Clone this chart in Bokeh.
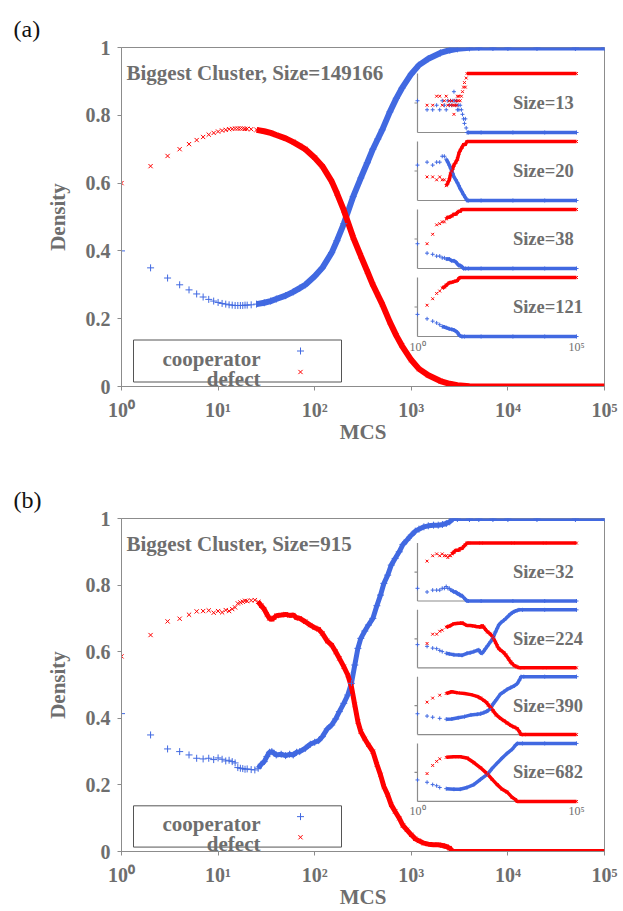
import math
import numpy as np
from bokeh.plotting import figure
from bokeh.layouts import column
from bokeh.models import (FixedTicker, Label, BoxAnnotation, Range1d, CustomJSTickFormatter,
                          LogScale, LinearScale)
from bokeh.embed import file_html
from bokeh.resources import INLINE

NAN = float("nan")

# ---------------- data ----------------
X_TICKS = [1, 10, 100, 1000, 10000, 100000]
X_TICK_LABELS = ["10⁰", "10¹", "10²", "10³", "10⁴", "10⁵"]
Y_TICKS = [0, 0.2, 0.4, 0.6, 0.8, 1.0]
Y_TICK_LABELS = ["0", "0.2", "0.4", "0.6", "0.8", "1"]
INSET_X_TICKS = [1, 100000]
INSET_X_LABELS = ["10⁰", "10⁵"]
SERIES = ["cooperator", "defect"]

title_a = "Biggest Cluster, Size=149166"
title_b = "Biggest Cluster, Size=915"

mcs_a = [1, 2, 3, 4, 5, 6, 7, 8, 9, 10, 11, 12, 13, 14, 15, 16, 17, 18, 19, 20,
         22, 25, 30, 35, 40, 50, 60, 70, 80, 100, 120, 150, 170, 200, 250, 300, 350, 400,
         450, 500, 600, 700, 800, 1000, 1200, 1500, 2000, 2500, 3000, 4000, 5000, 7000,
         10000, 20000, 50000, 100000]
coop_a = [0.400, 0.350, 0.320, 0.300, 0.285, 0.273, 0.264, 0.257, 0.252, 0.248, 0.245, 0.243,
          0.241, 0.240, 0.239, 0.239, 0.239, 0.239, 0.240, 0.240,
          0.241, 0.243, 0.247, 0.252, 0.258, 0.268, 0.279, 0.290, 0.300, 0.325, 0.350, 0.395,
          0.430, 0.480, 0.560, 0.615, 0.660, 0.700, 0.730, 0.757, 0.810, 0.850, 0.880, 0.922,
          0.948, 0.967, 0.984, 0.992, 0.996, 0.999, 1.0, 1.0, 1.0, 1.0, 1.0, 1.0]
defect_a = [0.600, 0.650, 0.680, 0.700, 0.715, 0.727, 0.736, 0.743, 0.748, 0.752, 0.755, 0.757,
            0.759, 0.760, 0.761, 0.761, 0.761, 0.761, 0.760, 0.760,
            0.759, 0.757, 0.753, 0.748, 0.742, 0.732, 0.721, 0.710, 0.700, 0.675, 0.650, 0.605,
            0.570, 0.520, 0.440, 0.385, 0.340, 0.300, 0.270, 0.243, 0.190, 0.150, 0.120, 0.078,
            0.052, 0.033, 0.016, 0.008, 0.004, 0.001, 0.0, 0.0, 0.0, 0.0, 0.0, 0.0]

mcs_b = [1, 2, 3, 4, 5, 6, 7, 8, 9, 10, 11, 12, 13, 14, 15, 16, 17, 18, 19, 20,
         22, 24, 26, 28, 30, 32, 34, 36, 38, 40,
         45, 50, 55, 60, 65, 70, 80, 90, 100, 110,
         120, 135, 150, 165, 180, 200, 220, 240, 260, 280,
         300, 330, 360, 400, 440, 480, 520, 570, 620, 680,
         750, 820, 900, 1000, 1100, 1200, 1350, 1500, 1700, 1900,
         2100, 2300, 2500, 2700, 3000, 4000, 5000, 7000, 10000, 20000,
         50000, 100000]
coop_b = [0.414, 0.350, 0.308, 0.300, 0.290, 0.280, 0.278, 0.280, 0.276, 0.281, 0.277, 0.272,
          0.274, 0.270, 0.266, 0.252, 0.250, 0.249, 0.247, 0.248,
          0.246, 0.245, 0.250, 0.262, 0.270, 0.285, 0.298, 0.300, 0.295, 0.290,
          0.292, 0.288, 0.292, 0.290, 0.298, 0.300, 0.310, 0.322, 0.328, 0.333,
          0.345, 0.368, 0.380, 0.398, 0.420, 0.445, 0.470, 0.505, 0.560, 0.610,
          0.640, 0.662, 0.680, 0.700, 0.738, 0.770, 0.805, 0.830, 0.860, 0.880,
          0.900, 0.922, 0.935, 0.950, 0.962, 0.968, 0.975, 0.978, 0.980, 0.980,
          0.982, 0.985, 0.990, 1.0, 1.0, 1.0, 1.0, 1.0, 1.0, 1.0,
          1.0, 1.0]
defect_b = [0.586, 0.650, 0.691, 0.699, 0.711, 0.721, 0.722, 0.724, 0.717, 0.722, 0.718, 0.725,
            0.722, 0.728, 0.733, 0.745, 0.748, 0.750, 0.753, 0.752,
            0.754, 0.755, 0.750, 0.738, 0.728, 0.712, 0.700, 0.697, 0.702, 0.708,
            0.710, 0.712, 0.709, 0.710, 0.702, 0.700, 0.690, 0.680, 0.672, 0.667,
            0.655, 0.632, 0.620, 0.600, 0.580, 0.555, 0.530, 0.495, 0.440, 0.390,
            0.360, 0.338, 0.320, 0.300, 0.262, 0.230, 0.195, 0.170, 0.140, 0.120,
            0.100, 0.078, 0.065, 0.050, 0.038, 0.032, 0.025, 0.022, 0.020, 0.020,
            0.018, 0.015, 0.010, 0.0, 0.0, 0.0, 0.0, 0.0, 0.0, 0.0,
            0.0, 0.0]

# insets of panel (a)
ins_a_size = ["Size=13", "Size=20", "Size=38", "Size=121"]
ia1_t = [1, 2, 3, 4, 5, 6, 7, 8, 9, 10, 11, 12, 13, 14, 15, 16, 17, 18, 19, 20, 22, 24, 26, 28,
         30, 32, 34, 36, 40, 100, 1000, 10000, 100000]
ia1_c = [0.538, 0.385, 0.385, 0.462, 0.385, 0.538, 0.462, 0.385, 0.538, 0.462, 0.538, 0.462,
         0.538, 0.692, 0.538, 0.462, 0.538, 0.385, 0.462, 0.385, 0.462, 0.385, 0.308, 0.231,
         0.154, 0.231, 0.077, 0.0, 0.0, 0.0, 0.0, 0.0, 0.0]
ia1_d = [NAN, 0.462, 0.462, 0.615, 0.615, 0.462, 0.538, 0.615, 0.462, 0.538, 0.462, 0.538,
         0.462, 0.308, 0.462, 0.538, 0.462, 0.615, 0.538, 0.615, 0.538, 0.615, 0.692, 0.769,
         0.846, 0.769, 0.923, 1.0, 1.0, 1.0, 1.0, 1.0, 1.0]
ia2_t = [1, 2, 3, 4, 5, 6, 7, 8, 9, 10, 11, 12, 13, 14, 16, 18, 20, 22, 25, 28, 32, 36, 40,
         100, 1000, 10000, 100000]
ia2_c = [0.60, 0.65, 0.60, 0.65, 0.65, 0.75, 0.75, 0.70, 0.65, 0.60, 0.55, 0.50, 0.45, 0.40,
         0.35, 0.30, 0.25, 0.20, 0.15, 0.10, 0.05, 0.0, 0.0, 0.0, 0.0, 0.0, 0.0]
ia2_d = [NAN, 0.40, 0.40, 0.35, 0.40, 0.35, 0.35, 0.25, 0.30, 0.35, 0.45, 0.50, 0.55, 0.60,
         0.65, 0.70, 0.80, 0.85, 0.90, 0.95, 0.95, 1.0, 1.0, 1.0, 1.0, 1.0, 1.0]
ia3_t = [1, 2, 3, 4, 5, 6, 7, 8, 9, 10, 12, 14, 16, 18, 20, 22, 25, 28, 32, 40, 100, 1000,
         10000, 100000]
ia3_c = [0.42, 0.26, 0.24, 0.21, 0.21, 0.18, 0.18, 0.16, 0.16, 0.16, 0.13, 0.13, 0.11, 0.08,
         0.05, 0.05, 0.03, 0.0, 0.0, 0.0, 0.0, 0.0, 0.0, 0.0]
ia3_d = [NAN, 0.42, 0.58, 0.74, 0.76, 0.79, 0.79, 0.84, 0.87, 0.87, 0.89, 0.92, 0.92, 0.95,
         0.97, 0.97, 1.0, 1.0, 1.0, 1.0, 1.0, 1.0, 1.0, 1.0]
ia4_t = [1, 2, 3, 4, 5, 6, 7, 8, 10, 12, 14, 16, 18, 20, 22, 25, 30, 100, 1000, 10000, 100000]
ia4_c = [0.375, 0.30, 0.26, 0.23, 0.20, 0.17, 0.16, 0.15, 0.13, 0.12, 0.11, 0.09, 0.07, 0.03,
         0.01, 0.0, 0.0, 0.0, 0.0, 0.0, 0.0]
ia4_d = [NAN, 0.53, 0.64, 0.73, 0.77, 0.82, 0.84, 0.87, 0.91, 0.92, 0.93, 0.94, 0.95, 0.985,
         1.0, 1.0, 1.0, 1.0, 1.0, 1.0, 1.0]

# insets of panel (b)
ins_b_size = ["Size=32", "Size=224", "Size=390", "Size=682"]
ib1_t = [1, 2, 3, 4, 5, 6, 7, 8, 9, 10, 11, 12, 14, 16, 18, 20, 22, 25, 28, 32, 36, 40, 100,
         1000, 10000, 100000]
ib1_c = [0.219, 0.156, 0.188, 0.188, 0.188, 0.219, 0.219, 0.250, 0.219, 0.219, 0.188, 0.188,
         0.156, 0.156, 0.125, 0.125, 0.094, 0.094, 0.063, 0.031, 0.0, 0.0, 0.0, 0.0, 0.0, 0.0]
ib1_d = [NAN, 0.688, 0.781, 0.813, 0.781, 0.813, 0.781, 0.781, 0.750, 0.781, 0.781, 0.813,
         0.844, 0.875, 0.875, 0.875, 0.906, 0.906, 0.938, 0.969, 1.0, 1.0, 1.0, 1.0, 1.0, 1.0]
ib2_t = [1, 2, 3, 4, 5, 6, 8, 10, 14, 20, 25, 36, 45, 59, 75, 85, 96, 108, 122, 137, 160, 198,
         240, 284, 320, 361, 420, 518, 600, 740, 850, 950, 1100, 1210, 1370, 1550, 2000, 10000,
         100000]
ib2_c = [0.40, 0.37, 0.34, 0.33, 0.30, 0.28, 0.25, 0.24, 0.225, 0.22, 0.215, 0.25, 0.26, 0.28,
         0.30, 0.31, 0.26, 0.25, 0.29, 0.33, 0.38, 0.45, 0.52, 0.62, 0.68, 0.74, 0.78, 0.82,
         0.85, 0.90, 0.93, 0.95, 0.97, 0.98, 0.99, 1.0, 1.0, 1.0, 1.0]
ib2_d = [NAN, 0.42, 0.58, 0.58, 0.63, 0.65, 0.70, 0.72, 0.76, 0.77, 0.775, 0.73, 0.73, 0.72,
         0.71, 0.71, 0.70, 0.73, 0.70, 0.66, 0.62, 0.58, 0.52, 0.44, 0.38, 0.33, 0.30, 0.26,
         0.22, 0.15, 0.10, 0.07, 0.04, 0.03, 0.015, 0.0, 0.0, 0.0, 0.0]
ib3_t = [1, 2, 3, 5, 8, 12, 19, 30, 48, 75, 96, 122, 150, 170, 198, 240, 300, 408, 520, 659,
         850, 1100, 1370, 1600, 1800, 2200, 10000, 100000]
ib3_c = [0.36, 0.32, 0.30, 0.28, 0.265, 0.27, 0.29, 0.31, 0.34, 0.35, 0.36, 0.38, 0.40, 0.42,
         0.45, 0.53, 0.60, 0.70, 0.74, 0.78, 0.81, 0.84, 0.88, 0.94, 1.0, 1.0, 1.0, 1.0]
ib3_d = [NAN, 0.56, 0.63, 0.68, 0.71, 0.74, 0.72, 0.71, 0.69, 0.66, 0.63, 0.59, 0.55, 0.51,
         0.47, 0.41, 0.34, 0.28, 0.24, 0.20, 0.16, 0.13, 0.10, 0.05, 0.0, 0.0, 0.0, 0.0]
ib4_t = [1, 2, 3, 4, 5, 8, 14, 22, 36, 59, 96, 160, 223, 320, 460, 659, 950, 1210, 1370, 2000,
         10000, 100000]
ib4_c = [0.37, 0.33, 0.29, 0.27, 0.24, 0.22, 0.21, 0.21, 0.24, 0.29, 0.38, 0.47, 0.57, 0.66,
         0.75, 0.83, 0.90, 0.97, 1.0, 1.0, 1.0, 1.0]
ib4_d = [NAN, 0.48, 0.62, 0.69, 0.735, 0.76, 0.77, 0.77, 0.75, 0.67, 0.58, 0.47, 0.38, 0.29,
         0.21, 0.16, 0.07, 0.03, 0.0, 0.0, 0.0, 0.0]

# ---------------- style / layout ----------------
FONT = "Liberation Serif"
TXT = "#6e6e6e"
AXC = "#8c8c8c"
BLUE = "#4169e1"
RED = "#ff0000"

W = 623
FL, FR = 121, 604          # main frame left/right (px)
FH = 339                   # main frame height (px)
DEC_PX = (FR - FL) / 5.0   # px per decade (main)
IN_L, IN_R = 417, 576      # inset frame left/right (px)
IN_DEC = (IN_R - IN_L) / 5.0


def fx(px):
    return 10 ** (px / DEC_PX)


def fy(px):
    return px / FH


def lookup_formatter(tick_vals, tick_texts):
    return CustomJSTickFormatter(
        args=dict(tick_vals=tick_vals, tick_texts=tick_texts),
        code="""
        for (let i = 0; i < tick_vals.length; i++) {
            if (Math.abs(tick_vals[i] - tick) <= 1e-9 * Math.max(1, Math.abs(tick_vals[i]))) return tick_texts[i];
        }
        return "";
        """)


def band(t, v, start):
    tt = [a for a in t if a >= start]
    vv = [b for a, b in zip(t, v) if a >= start]
    return tt, vv


def add_inset(p, k, top, tp, bp, t, c, d, band_from, size_text, show_x_labels):
    """Inset drawn through its own extra ranges inside the main frame."""
    xn, yn = "ix", "iy%d" % k
    unit = float(bp - tp)
    p.extra_y_ranges[yn] = Range1d(-(top + FH - bp) / unit, 1 + (tp - top) / unit)
    p.extra_y_scales[yn] = LinearScale()
    kw = dict(x_range_name=xn, y_range_name=yn)
    tick_x = 10 ** (-3.0 / IN_DEC)
    p.segment(x0=[1, 1, tick_x], y0=[0, 0, 0.5], x1=[1, 1e5, 1], y1=[1, 0, 0.5],
              line_color=AXC, line_width=1.2, **kw)
    tc, vc = band(t, c, band_from)
    td, vd = band(t, d, band_from)
    p.line(tc, vc, line_color=BLUE, line_width=3.5, **kw)
    p.line(td, vd, line_color=RED, line_width=3.5, **kw)
    p.scatter(np.asarray(t, dtype=float), np.asarray(c, dtype=float), marker="cross", size=4,
              line_color=BLUE, line_width=1, **kw)
    p.scatter(np.asarray(t, dtype=float), np.asarray(d, dtype=float), marker="x", size=4,
              line_color=RED, line_width=1, **kw)
    p.add_layout(Label(x=1000, y=0.5, text=size_text, text_align="left", text_baseline="middle",
                       text_font=FONT, text_font_style="bold", text_font_size="18.5px",
                       text_color=TXT, **kw))
    if show_x_labels:
        for tv, tl in zip(INSET_X_TICKS, INSET_X_LABELS):
            p.add_layout(Label(x=tv, y=0, y_offset=-3, text=tl, text_align="center",
                               text_baseline="top", text_font=FONT, text_font_size="12px",
                               text_color=TXT, **kw))


def main_panel(H, top, t, c, d, band_from, band_w, title, tag, insets, sizes):
    p = figure(width=W, height=H, x_axis_type="log",
               x_range=Range1d(1, 1e5), y_range=Range1d(0, 1),
               output_backend="svg", toolbar_location=None,
               min_border_left=FL, min_border_right=W - FR,
               min_border_top=top, min_border_bottom=H - top - FH,
               background_fill_color="white", border_fill_color="white")
    p.grid.visible = False
    p.outline_line_color = AXC
    p.outline_line_width = 1

    p.title.text = tag
    p.title.align = "left"
    p.title.offset = -108
    p.title.standoff = 12
    p.title.text_font = FONT
    p.title.text_font_size = "24px"
    p.title.text_font_style = "normal"
    p.title.text_color = "#111111"

    for ax in (p.xaxis[0], p.yaxis[0]):
        ax.axis_line_color = AXC
        ax.major_tick_line_color = AXC
        ax.minor_tick_line_color = None
        ax.major_tick_out = 4
        ax.major_tick_in = 0
        ax.major_label_text_font = FONT
        ax.major_label_text_font_style = "bold"
        ax.major_label_text_color = TXT
        ax.axis_label_text_font = FONT
        ax.axis_label_text_font_style = "bold"
        ax.axis_label_text_color = TXT
        ax.axis_label_text_font_size = "21px"
    xa = p.xaxis[0]
    xa.ticker = FixedTicker(ticks=X_TICKS)
    xa.formatter = lookup_formatter(X_TICKS, X_TICK_LABELS)
    xa.major_label_text_font_size = "20px"
    xa.major_label_standoff = 8
    xa.axis_label = "MCS"
    xa.axis_label_standoff = -4
    ya = p.yaxis[0]
    ya.ticker = FixedTicker(ticks=Y_TICKS)
    ya.formatter = lookup_formatter(Y_TICKS, Y_TICK_LABELS)
    ya.major_label_text_font_size = "20px"
    ya.major_label_standoff = 7
    ya.axis_label = "Density"
    ya.axis_label_standoff = 13

    p.extra_x_ranges["ix"] = Range1d(10 ** (-(IN_L - FL) / IN_DEC), 10 ** (5 + (FR - IN_R) / IN_DEC))
    p.extra_x_scales["ix"] = LogScale()

    tc, vc = band(t, c, band_from)
    td, vd = band(t, d, band_from)
    p.line(tc, vc, line_color=BLUE, line_width=band_w)
    p.line(td, vd, line_color=RED, line_width=band_w)
    p.scatter(t, c, marker="cross", size=7, line_color=BLUE, line_width=1)
    p.scatter(t, d, marker="x", size=6, line_color=RED, line_width=1)

    lab = dict(text_font=FONT, text_font_style="bold", text_color=TXT, text_font_size="21px")
    p.add_layout(Label(x=1, y=1, x_offset=5, y_offset=-25, text=title,
                       text_baseline="alphabetic", **lab))

    # legend (label left, symbol right)
    p.add_layout(BoxAnnotation(left=fx(12), right=fx(220), bottom=fy(4.5), top=fy(46.5),
                               fill_alpha=0, line_color="#555555", line_alpha=1.0, line_width=1))
    p.add_layout(Label(x=fx(139), y=fy(28), text=SERIES[0], text_align="right",
                       text_baseline="alphabetic", **lab))
    p.add_layout(Label(x=fx(139), y=fy(8), text=SERIES[1], text_align="right",
                       text_baseline="alphabetic", **lab))
    p.scatter([fx(179)], [fy(35.5)], marker="cross", size=7, line_color=BLUE, line_width=1)
    p.scatter([fx(179)], [fy(14.5)], marker="x", size=6, line_color=RED, line_width=1)

    for k, ((it, ic, idd, bf), (tp, bp)) in enumerate(insets):
        add_inset(p, k, top, tp, bp, it, ic, idd, bf, sizes[k], k == len(insets) - 1)
    return p


HA, HB = 455, 456
ins_a_data = [(ia1_t, ia1_c, ia1_d, 36), (ia2_t, ia2_c, ia2_d, 8),
              (ia3_t, ia3_c, ia3_d, 8), (ia4_t, ia4_c, ia4_d, 6)]
ins_b_data = [(ib1_t, ib1_c, ib1_d, 12), (ib2_t, ib2_c, ib2_d, 8),
              (ib3_t, ib3_c, ib3_d, 8), (ib4_t, ib4_c, ib4_d, 8)]
ins_a_pos = [(73, 132), (141, 200), (209, 268), (277, 336)]
ins_b_pos = [(88, 147), (156, 215), (224, 283), (292, 351)]

pa = main_panel(HA, 47, mcs_a, coop_a, defect_a, 25, 6, title_a, "(a)",
                list(zip(ins_a_data, ins_a_pos)), ins_a_size)
pb = main_panel(HB, 63, mcs_b, coop_b, defect_b, 25, 5, title_b, "(b)",
                list(zip(ins_b_data, ins_b_pos)), ins_b_size)

layout = column(pa, pb, spacing=0)
open("out.html", "w").write(file_html(layout, INLINE))
